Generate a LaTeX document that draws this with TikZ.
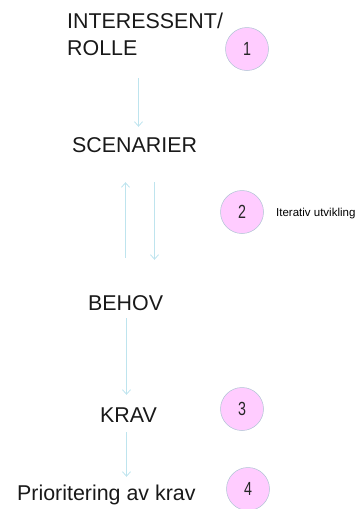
\documentclass[tikz,border=0pt]{standalone}
\usepackage{fontspec}
\setmainfont{Liberation Sans}
\usetikzlibrary{arrows.meta}
\definecolor{arrowblue}{RGB}{190,228,238}
\definecolor{circpink}{RGB}{255,204,255}
\definecolor{circedge}{RGB}{175,195,212}
\begin{document}
\begin{tikzpicture}[x=1pt,y=-1pt,
  lbl/.style={inner sep=0pt,anchor=base west,font=\fontsize{21.4}{27}\selectfont,text=black!90},
  caplbl/.style={lbl,text height=15.3pt,text depth=0pt},
  numc/.style={circle,draw=circedge,line width=0.5pt,fill=circpink,minimum size=43pt,inner sep=0pt,
    font=\fontsize{19}{19}\selectfont,text=black!85},
  arr/.style={draw=arrowblue,line width=0.8pt,-{Straight Barb[length=4.5pt,width=8pt]}},
  note/.style={inner sep=0pt,anchor=base west,font=\fontsize{11.5}{12}\selectfont}]
\useasboundingbox (0,0) rectangle (363,509);
% text nodes
\node[lbl,align=left] (int) at (67,55) {INTERESSENT/\\ROLLE};
\node[caplbl] (scen) at (72,152) {SCENARIER};
\node[caplbl] (beh) at (88,310) {BEHOV};
\node[caplbl] (krav) at (100,422) {KRAV};
\node[caplbl] (prio) at (17,500) {Prioritering av krav};
\node[note] (iter) at (276,216.5) {Iterativ utvikling};
% numbered circles
\node[numc] (n1) at (247,49) {\scalebox{0.75}[1]{1}};
\node[numc] (n2) at (242,212) {\scalebox{0.75}[1]{2}};
\node[numc] (n3) at (242,409) {\scalebox{0.75}[1]{3}};
\node[numc] (n4) at (248,489) {\scalebox{0.75}[1]{4}};
% x positions of connectors
\coordinate (x1) at (138.5,0);
\coordinate (xu) at (125.5,0);
\coordinate (xd) at (154.5,0);
\coordinate (xb) at (126.5,0);
% connectors
\draw[arr,shorten <=23pt,shorten >=9.7pt] (int.south -| x1) -- (scen.north -| x1);
\draw[arr,shorten <=36.7pt,shorten >=30pt] (beh.north -| xu) -- (scen.south -| xu);
\draw[arr,shorten <=30pt,shorten >=34.7pt] (scen.south -| xd) -- (beh.north -| xd);
\draw[arr,shorten <=8pt,shorten >=11.7pt] (beh.south -| xb) -- (krav.north -| xb);
\draw[arr,shorten <=10pt,shorten >=7.7pt] (krav.south -| xb) -- (prio.north -| xb);
\end{tikzpicture}
\end{document}
